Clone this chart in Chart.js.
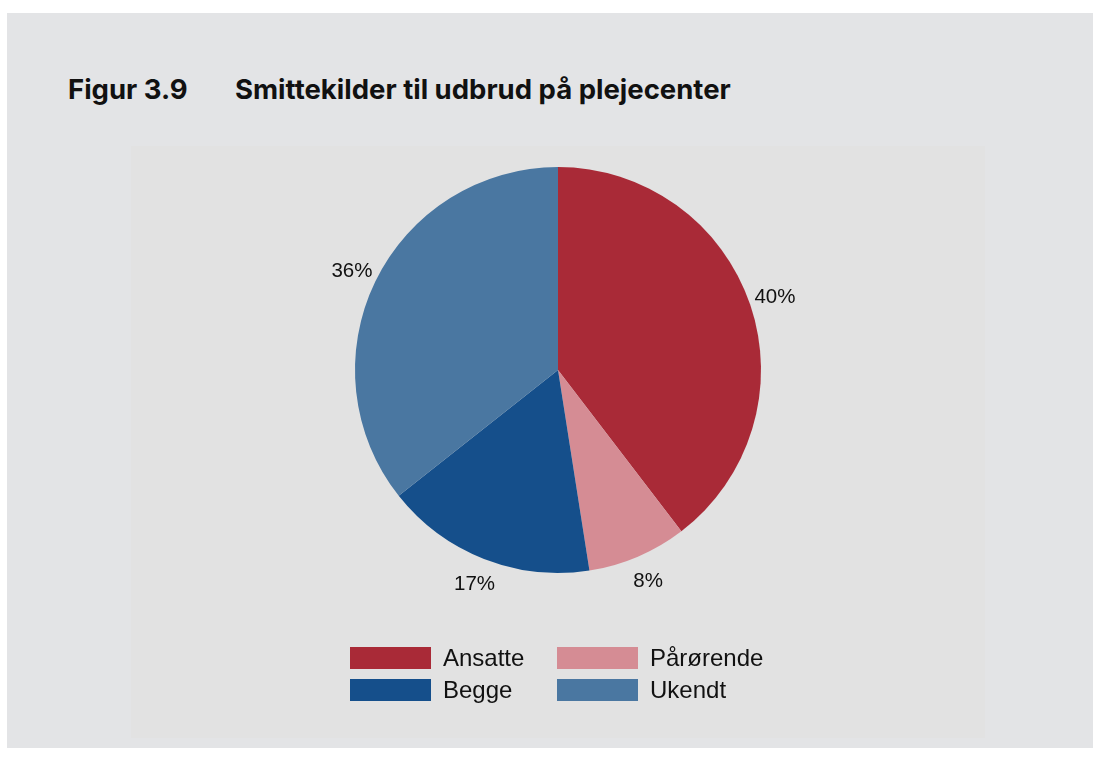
<!DOCTYPE html>
<html>
<head>
<meta charset="utf-8">
<script src="https://cdn.jsdelivr.net/npm/chart.js@4.4.0/dist/chart.umd.min.js"></script>
<style>
  body { margin: 0; background: #ffffff; width: 1099px; height: 760px; position: relative; overflow: hidden; }
  #outer { position: absolute; left: 7px; top: 13px; width: 1086px; height: 735px; background: #e3e4e6; }
  #panel { position: absolute; left: 131px; top: 146px; width: 854px; height: 592px; background: #e2e2e2; }
  #title { position: absolute; left: 68px; top: 72px; font-family: Inter, "Noto Sans", sans-serif; font-weight: 700; font-size: 27.5px; color: #111; white-space: nowrap; }
  #title .num { display: inline-block; width: 167px; }
  #chartBox { position: absolute; left: 0; top: 0; width: 1099px; height: 760px; }
  #legend { position: absolute; left: 350px; top: 647px; display: grid; grid-template-columns: 207px 220px; row-gap: 10px;
            font-family: "Liberation Sans", Arial, sans-serif; font-size: 24px; color: #111; }
  .item { display: flex; align-items: center; height: 22px; }
  .swatch { width: 81px; height: 22px; margin-right: 12px; }
</style>
</head>
<body>
<div id="outer"></div>
<div id="panel"></div>
<div id="title"><span class="num">Figur 3.9</span>Smittekilder til udbrud på plejecenter</div>
<div id="chartBox"><canvas id="pie"></canvas></div>
<div id="legend"></div>
<script>
// === Chart data ===
const categories = ["Ansatte", "Pårørende", "Begge", "Ukendt"];
const shares = [40, 8, 17, 36];
const sliceColors = ["#a92a37", "#d58c94", "#154f8b", "#4a77a1"];
const legendOrder = [0, 1, 2, 3];

// Percent labels just outside each slice
const outsideLabels = {
    id: "outsideLabels",
    afterDatasetsDraw(chart) {
        const ctx = chart.ctx;
        const meta = chart.getDatasetMeta(0);
        ctx.save();
        ctx.font = "20.5px 'Liberation Sans', Arial, sans-serif";
        ctx.fillStyle = "#111";
        ctx.textAlign = "center";
        ctx.textBaseline = "middle";
        meta.data.forEach((arc, i) => {
            const mid = (arc.startAngle + arc.endAngle) / 2;
            const r = arc.outerRadius + 26;
            ctx.fillText(shares[i] + "%", arc.x + Math.cos(mid) * r, arc.y + Math.sin(mid) * r + 1);
        });
        ctx.restore();
    }
};

new Chart(document.getElementById("pie"), {
    type: "pie",
    data: {
        labels: categories,
        datasets: [{
            data: shares,
            backgroundColor: sliceColors,
            borderWidth: 0
        }]
    },
    options: {
        responsive: true,
        maintainAspectRatio: false,
        animation: false,
        layout: { padding: { left: 355, right: 338, top: 167, bottom: 187 } },
        plugins: {
            legend: { display: false },
            tooltip: { enabled: false }
        }
    },
    plugins: [outsideLabels]
});

// Legend laid out in two columns like the original
const legend = document.getElementById("legend");
legendOrder.forEach(i => {
    const item = document.createElement("div");
    item.className = "item";
    item.innerHTML = '<div class="swatch" style="background:' + sliceColors[i] + '"></div>' + categories[i];
    legend.appendChild(item);
});
</script>
</body>
</html>
